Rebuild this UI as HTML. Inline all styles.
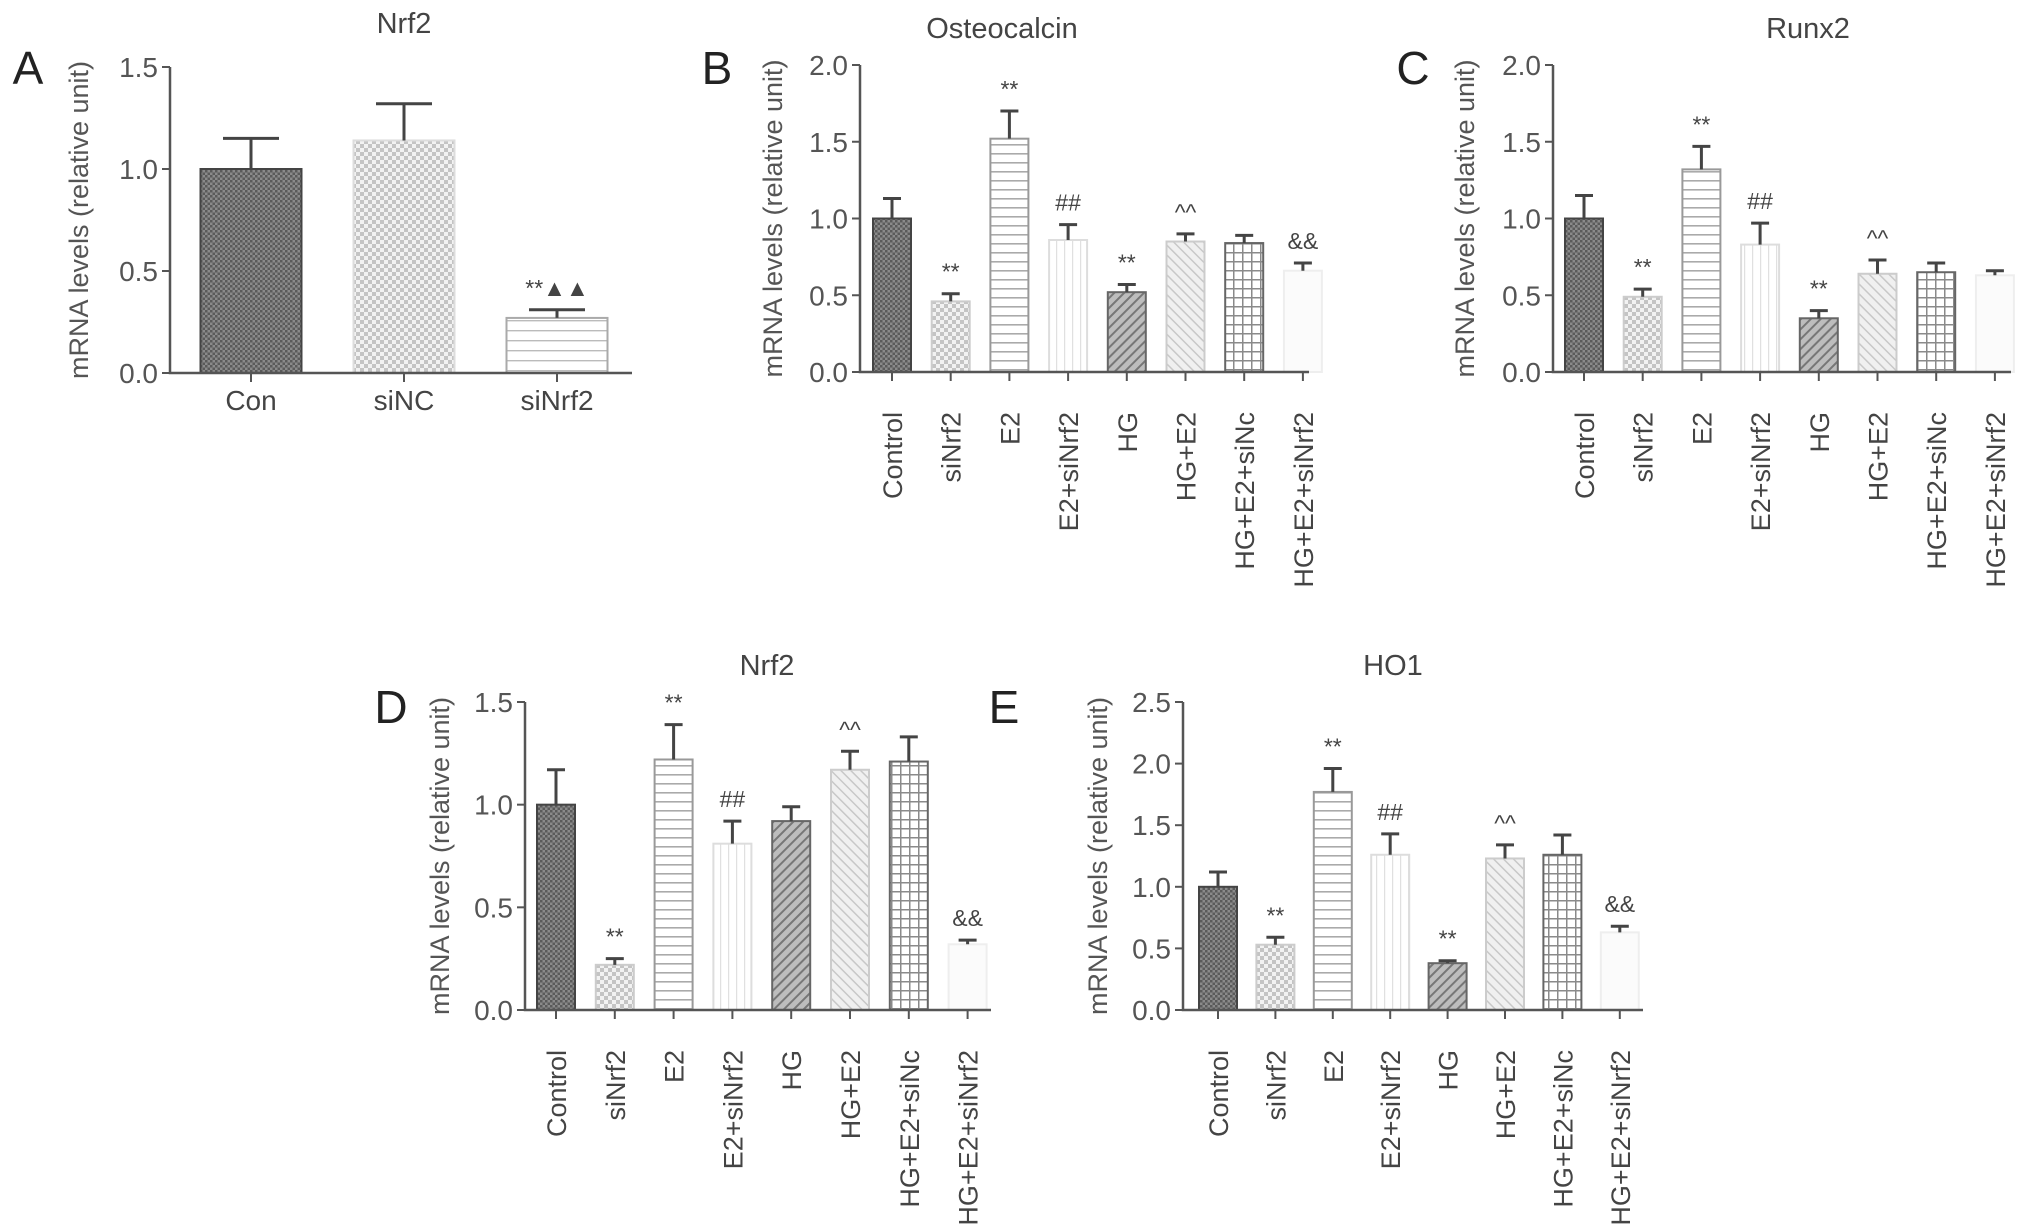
<!DOCTYPE html>
<html><head><meta charset="utf-8"><style>
html,body{margin:0;padding:0;background:#fff;}
svg{display:block;font-family:"Liberation Sans",sans-serif;}
</style></head><body>
<svg id="fig" width="2032" height="1232" viewBox="0 0 2032 1232">
<defs>
<pattern id="p0" width="5" height="5" patternUnits="userSpaceOnUse"><rect width="5" height="5" fill="#8a8a8a"/><rect width="2.5" height="2.5" fill="#5a5a5a"/><rect x="2.5" y="2.5" width="2.5" height="2.5" fill="#5a5a5a"/></pattern>
<pattern id="p1" width="8" height="8" patternUnits="userSpaceOnUse"><rect width="8" height="8" fill="#f2f2f2"/><rect width="4" height="4" fill="#c4c4c4"/><rect x="4" y="4" width="4" height="4" fill="#c4c4c4"/></pattern>
<pattern id="p2" width="8" height="9" patternUnits="userSpaceOnUse"><rect width="8" height="9" fill="#fff"/><rect y="0" width="8" height="1.6" fill="#aaa"/></pattern>
<pattern id="p3" width="8" height="8" patternUnits="userSpaceOnUse"><rect width="8" height="8" fill="#fff"/><rect x="0" width="1.2" height="8" fill="#e0e0e0"/></pattern>
<pattern id="p4" width="7" height="7" patternUnits="userSpaceOnUse" patternTransform="rotate(45)"><rect width="7" height="7" fill="#bdbdbd"/><rect width="2" height="7" fill="#777"/></pattern>
<pattern id="p5" width="7" height="7" patternUnits="userSpaceOnUse" patternTransform="rotate(-45)"><rect width="7" height="7" fill="#f0f0f0"/><rect width="1.5" height="7" fill="#c8c8c8"/></pattern>
<pattern id="p6" width="9" height="9" patternUnits="userSpaceOnUse"><rect width="9" height="9" fill="#fff"/><rect width="9" height="1.5" fill="#8a8a8a"/><rect width="1.5" height="9" fill="#8a8a8a"/></pattern>
<pattern id="p7" width="8" height="8" patternUnits="userSpaceOnUse"><rect width="8" height="8" fill="#fbfbfb"/></pattern>
<pattern id="pa2" width="8" height="10" patternUnits="userSpaceOnUse"><rect width="8" height="10" fill="#fff"/><rect width="8" height="1.4" fill="#bbb"/></pattern>
</defs>
</svg>
<script>
// ---- data ----
const groups8 = ["Control","siNrf2","E2","E2+siNrf2","HG","HG+E2","HG+E2+siNc","HG+E2+siNrf2"];
const groupsA = ["Con","siNC","siNrf2"];
const valsA = [1.0, 1.14, 0.27];
const errA = [0.15, 0.18, 0.04];
const annA = ["", "", "**\u25B2\u25B2"];
const valsB = [1.0, 0.46, 1.52, 0.86, 0.52, 0.85, 0.84, 0.66];
const errB = [0.13, 0.05, 0.18, 0.10, 0.05, 0.05, 0.05, 0.05];
const annB = ["", "**", "**", "##", "**", "^^", "", "&&"];
const valsC = [1.0, 0.49, 1.32, 0.83, 0.35, 0.64, 0.65, 0.63];
const errC = [0.15, 0.05, 0.15, 0.14, 0.05, 0.09, 0.06, 0.03];
const annC = ["", "**", "**", "##", "**", "^^", "", ""];
const valsD = [1.0, 0.22, 1.22, 0.81, 0.92, 1.17, 1.21, 0.32];
const errD = [0.17, 0.03, 0.17, 0.11, 0.07, 0.09, 0.12, 0.02];
const annD = ["", "**", "**", "##", "", "^^", "", "&&"];
const valsE = [1.0, 0.53, 1.77, 1.26, 0.38, 1.23, 1.26, 0.63];
const errE = [0.12, 0.06, 0.19, 0.17, 0.02, 0.11, 0.16, 0.05];
const annE = ["", "**", "**", "##", "**", "^^", "", "&&"];
const ticksA = ["0.0","0.5","1.0","1.5"];
const ticks2 = ["0.0","0.5","1.0","1.5","2.0"];
const ticks25 = ["0.0","0.5","1.0","1.5","2.0","2.5"];

const NS="http://www.w3.org/2000/svg";
const svg=document.getElementById('fig');
function mk(tag,attrs,parent,text){const e=document.createElementNS(NS,tag);for(const k in attrs)e.setAttribute(k,attrs[k]);if(text!==undefined)e.textContent=text;(parent||svg).appendChild(e);return e;}

function panel(cfg){
  const g=mk('g',{});
  
  
  const ymax=parseFloat(cfg.ticks[cfg.ticks.length-1]);
  const y=v=>cfg.y0-(v/ymax)*(cfg.y0-cfg.yTop);
  const x=i=>cfg.c0+i*cfg.step;
  const col='#555';
  const L=mk('text',{x:cfg.lx,y:cfg.ly+17,'font-size':46,fill:'#222','text-anchor':'middle'},g,cfg.letter);
  
  
  const T=mk('text',{x:cfg.tx,y:cfg.ty+10,'font-size':29,fill:'#444','text-anchor':'middle'},g,cfg.title);
  
  
  const YT=mk('text',{transform:`translate(${cfg.ytx},${(cfg.y0+cfg.yTop)/2}) rotate(-90)`,'font-size':27,fill:'#555','text-anchor':'middle'},g,'mRNA levels (relative unit)');
  
  
  cfg.vals.forEach((v,i)=>{
    const cx=x(i),top=y(v);
    const r=mk('rect',{x:cx-cfg.bw/2,y:top,width:cfg.bw,height:cfg.y0-top,fill:`url(#${cfg.pats[i]})`,stroke:cfg.strokes[i],'stroke-width':2},g);
    
    
    const et=y(v+cfg.err[i]);
    const e=mk('path',{d:`M${cx} ${top} V${et} M${cx-cfg.cap} ${et} H${cx+cfg.cap}`,stroke:'#444','stroke-width':3,fill:'none'},g);
    
    
    if(cfg.ann[i]){
      const a=mk('text',{x:cx,y:et-14,'font-size':23,fill:'#444','text-anchor':'middle'},g,cfg.ann[i]);
      
      
    }
  });
  const ax=mk('path',{d:`M${cfg.ax} ${cfg.yTop} V${cfg.y0} H${cfg.xEnd}`,stroke:col,'stroke-width':2.5,fill:'none'},g);
  
  
  cfg.ticks.forEach(t=>{
    const ty=y(parseFloat(t));
    mk('line',{x1:cfg.ax-8,x2:cfg.ax,y1:ty,y2:ty,stroke:col,'stroke-width':2},g);
    const tl=mk('text',{x:cfg.ax-12,y:ty+10,'font-size':28,fill:'#555','text-anchor':'end'},g,t);
    
    
  });
  cfg.groups.forEach((n,i)=>{
    const cx=x(i);
    mk('line',{x1:cx,x2:cx,y1:cfg.y0,y2:cfg.y0+9,stroke:col,'stroke-width':2},g);
    let tl;
    if(cfg.rot) tl=mk('text',{transform:`translate(${cx+10},${cfg.y0+40}) rotate(-90)`,'font-size':27,fill:'#444','text-anchor':'end'},g,n);
    else tl=mk('text',{x:cx,y:cfg.y0+37,'font-size':28,fill:'#444','text-anchor':'middle'},g,n);
    
    
  });
}
const pats8=['p0','p1','p2','p3','p4','p5','p6','p7'];
const str8=['#444','#ccc','#999','#ddd','#666','#ccc','#666','#eee'];
panel({id:'a',letter:'A',lx:28,ly:67,title:'Nrf2',tx:404,ty:23,ytx:88,ticks:ticksA,yTop:67,y0:373,ax:170,xEnd:632,c0:251,step:153,bw:101,cap:28,groups:groupsA,vals:valsA,err:errA,ann:annA,pats:['p0','p1','pa2'],strokes:['#444','#ddd','#aaa'],rot:false});
panel({id:'b',letter:'B',lx:717,ly:67,title:'Osteocalcin',tx:1002,ty:28,ytx:782,ticks:ticks2,yTop:65,y0:372,ax:860,xEnd:1309,c0:892,step:58.7,bw:38,cap:9,groups:groups8,vals:valsB,err:errB,ann:annB,pats:pats8,strokes:str8,rot:true});
panel({id:'c',letter:'C',lx:1413,ly:67,title:'Runx2',tx:1808,ty:28,ytx:1474,ticks:ticks2,yTop:65,y0:372,ax:1553,xEnd:2011,c0:1584,step:58.7,bw:38,cap:9,groups:groups8,vals:valsC,err:errC,ann:annC,pats:pats8,strokes:str8,rot:true});
panel({id:'d',letter:'D',lx:391,ly:706,title:'Nrf2',tx:767,ty:665,ytx:449,ticks:ticksA,yTop:702,y0:1010,ax:525,xEnd:991,c0:556,step:58.8,bw:38,cap:9,groups:groups8,vals:valsD,err:errD,ann:annD,pats:pats8,strokes:str8,rot:true});
panel({id:'e',letter:'E',lx:1004,ly:706,title:'HO1',tx:1393,ty:665,ytx:1107,ticks:ticks25,yTop:702,y0:1010,ax:1183,xEnd:1643,c0:1218,step:57.4,bw:38,cap:9,groups:groups8,vals:valsE,err:errE,ann:annE,pats:pats8,strokes:str8,rot:true});
</script>
</body></html>
